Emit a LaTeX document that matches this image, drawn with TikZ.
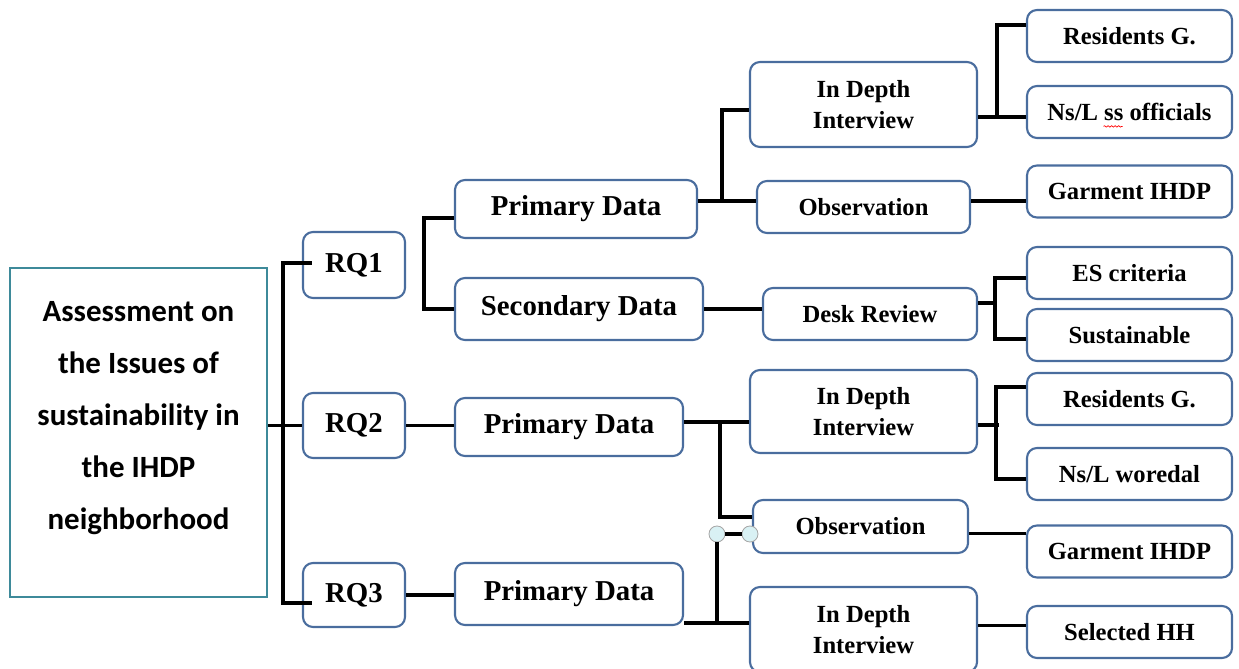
\documentclass[tikz,border=0pt]{standalone}
\usepackage{fontspec}
\setmainfont{Liberation Serif}
\newfontfamily\calfont{Carlito}
\usetikzlibrary{shapes,positioning,decorations.pathmorphing}
\definecolor{boxline}{HTML}{4A6D9E}
\definecolor{mainline}{HTML}{3E8A9A}
\definecolor{handlefill}{HTML}{D9F1F4}

\begin{document}
\begin{tikzpicture}[x=0.025cm, y=-0.025cm,
        box/.style={draw=boxline, line width=1.5pt, rounded corners=0.25cm, inner sep=0pt, align=center,
            font=\bfseries\fontsize{17.5}{22}\selectfont, minimum height=1.3cm},
        bigbox/.style={box, font=\bfseries\fontsize{20.5}{25}\selectfont},
        leaf/.style={box, minimum width=5.125cm},
        link/.style={line width=2.7pt},
        handle/.style={circle, draw=gray!70, fill=handlefill, line width=0.6pt, minimum size=0.4cm, inner sep=0pt},
        squiggle/.style={red, line width=0.5pt, decorate, decoration={snake, amplitude=0.5pt, segment length=2.5pt}}]
        \useasboundingbox (0,0) rectangle (1239,669);
        \node [draw=mainline, line width=1.5pt, inner sep=0pt, minimum width=6.425cm, minimum height=8.225cm] (M) at (138.5,432.5)
            {\raisebox{0.44cm}[\height][\depth]{\calfont\bfseries\fontsize{22}{37}\selectfont
             \begin{tabular}{@{}c@{}}Assessment on\\the Issues of\\sustainability in\\the IHDP\\neighborhood\end{tabular}}};
        \node [bigbox, minimum width=2.55cm, minimum height=1.65cm] (RQ1) at (354,265) {RQ1};
        \node [bigbox, minimum width=2.55cm, minimum height=1.625cm] (RQ2) at (354,425.5) {RQ2};
        \node [bigbox, minimum width=2.55cm, minimum height=1.6cm] (RQ3) at (354,595) {RQ3};
        \node [bigbox, minimum width=6.05cm, minimum height=1.45cm] (PD1) at (576,209) {Primary Data};
        \node [bigbox, minimum width=6.2cm, minimum height=1.55cm] (SD) at (579,309) {Secondary Data};
        \node [bigbox, minimum width=5.7cm, minimum height=1.45cm] (PD2) at (569,427) {Primary Data};
        \node [bigbox, minimum width=5.7cm, minimum height=1.55cm] (PD3) at (569,594) {Primary Data};
        \node [box, minimum width=5.675cm, minimum height=2.125cm] (IDI1) at (863.5,104.5) {In Depth\\Interview};
        \node [box, minimum width=5.325cm] (Obs1) at (863.5,207) {Observation};
        \node [box, minimum width=5.35cm] (DR) at (870,314) {Desk Review};
        \node [box, minimum width=5.675cm, minimum height=2.075cm] (IDI2) at (863.5,411.5) {In Depth\\Interview};
        \node [box, minimum width=5.375cm, minimum height=1.325cm] (Obs2) at (860.5,526.5) {Observation};
        \node [box, minimum width=5.675cm, minimum height=2.125cm] (IDI3) at (863.5,629.5) {In Depth\\Interview};
        \node [leaf] (RG1) at (1129.5,36) {Residents G.};
        \node [leaf] (NsL) at (1129.5,112) {Ns/L ss officials};
        \node [leaf] (GI1) at (1129.5,191.5) {Garment IHDP};
        \node [leaf] (ES) at (1129.5,273) {ES criteria};
        \node [leaf] (Sus) at (1129.5,335) {Sustainable};
        \node [leaf] (RG2) at (1129.5,399) {Residents G.};
        \node [leaf] (NsW) at (1129.5,474) {Ns/L woredal};
        \node [leaf] (GI2) at (1129.5,551.5) {Garment IHDP};
        \node [leaf] (SHH) at (1129.5,632) {Selected HH};
        \node [handle] (h1) at (717,534) {};
        \node [handle] (h2) at (750,534) {};
        \draw [squiggle] ([xshift=-0.65cm,yshift=-0.36cm]NsL.center) -- ([xshift=-0.17cm,yshift=-0.36cm]NsL.center);
        \coordinate (j1) at ([yshift=0.2cm]PD1.east);
        \coordinate (j2) at ([yshift=-0.31cm]IDI1.east);
        \coordinate (j3) at ([yshift=0.15cm]Obs1.east);
        \coordinate (j4) at ([yshift=0.125cm]PD2.east);
        \coordinate (j5) at ([yshift=-0.725cm]PD3.east);
        \coordinate (j6) at ([yshift=-0.34cm]IDI2.east);
        \coordinate (j7) at ([yshift=-0.175cm]Obs2.east);
        \coordinate (j8) at ([yshift=0.1cm]IDI3.east);
        \draw [link] (RQ2.west -| M.east) -- (RQ2.west);
        \draw [link] ([xshift=0.25cm,yshift=0.05cm]RQ1.west) -- ++(-29,0) |- ([xshift=0.25cm,yshift=-0.2cm]RQ3.west);
        \draw [link] (RQ2.east) -- (RQ2.east -| PD2.west);
        \draw [link] (RQ3.east) -- (RQ3.east -| PD3.west);
        \draw [link] ([yshift=-0.225cm]PD1.west) -- ++(-30,0) |- (SD.west);
        \draw [link] (SD.east) -- (SD.east -| DR.west);
        \draw [link] (j1) -- (j1 -| Obs1.west);
        \draw [link] ([yshift=-0.14cm]IDI1.west) -- ++(-27,0) |- (j1);
        \draw [link] (j2) -- (j2 -| NsL.west);
        \draw [link] ([yshift=0.275cm]RG1.west) -- ++(-29,0) |- (j2);
        \draw [link] (j3) -- (j3 -| GI1.west);
        \draw [link] ([yshift=0.275cm]DR.east) -- ++(19,0);
        \draw [link] ([yshift=-0.125cm]ES.west) -- ++(-31,0) |- ([yshift=-0.1cm]Sus.west);
        \draw [link] (j4) -- (j4 -| IDI2.west);
        \draw [link] ([yshift=0.24cm]Obs2.west) -- ++(-32,0) |- (j4);
        \draw [link] (j5) -- (j5 -| IDI3.west);
        \draw [link] (h1.south |- j5) -- (h1.south);
        \draw [link] (h1) -- (h2);
        \draw [link] (j6) -- ++(21,0);
        \draw [link] ([yshift=0.3cm]RG2.west) -- ++(-30,0) |- ([yshift=-0.125cm]NsW.west);
        \draw [link] (j7) -- (j7 -| GI2.west);
        \draw [link] (j8) -- (j8 -| SHH.west);
\end{tikzpicture}
\end{document}
